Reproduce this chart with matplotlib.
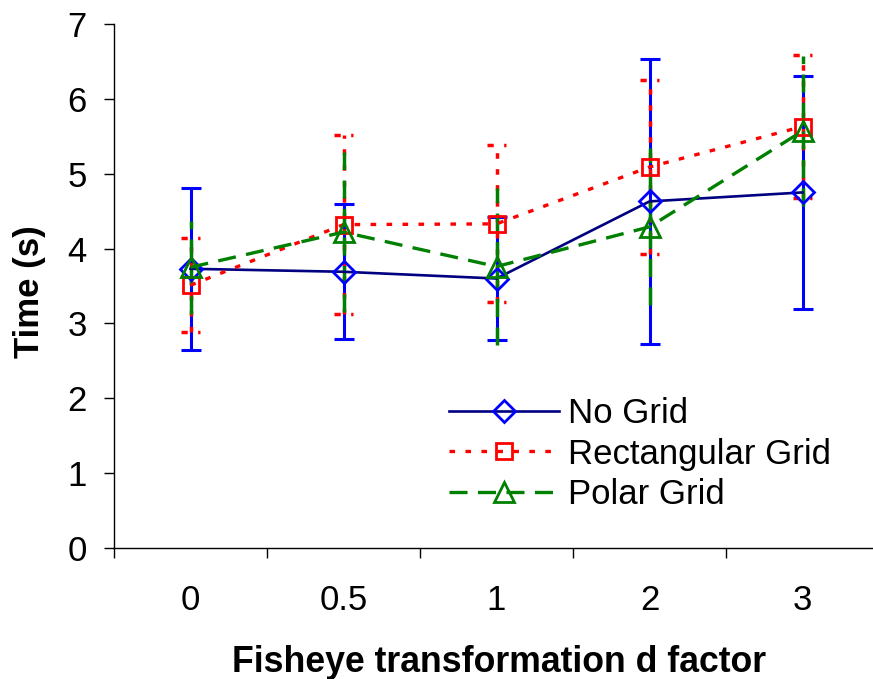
import matplotlib
matplotlib.use("Agg")
import matplotlib.pyplot as plt
import numpy as np

plt.rcParams['font.family'] = ['Liberation Sans', 'DejaVu Sans']
plt.rcParams['lines.scale_dashes'] = False

categories = ['0', '0.5', '1', '2', '3']
series_names = ['No Grid', 'Rectangular Grid', 'Polar Grid']
no_grid = [3.73, 3.69, 3.60, 4.63, 4.75]
no_grid_err = [1.085, 0.90, 0.82, 1.90, 1.56]
rect = [3.51, 4.32, 4.33, 5.09, 5.63]
rect_err = [0.63, 1.20, 1.05, 1.16, 0.96]
polar = [3.75, 4.22, 3.76, 4.29, 5.57]
polar_err = [0.62, 1.07, 1.05, 1.05, 1.00]
y_ticks = [0, 1, 2, 3, 4, 5, 6, 7]

W, H = 873, 679
fig = plt.figure(figsize=(W / 100, H / 100), dpi=100)
ax = fig.add_axes([114 / W, 1 - 548 / H, (879 - 114) / W, (548 - 24) / H])

x = np.arange(len(categories))
navy, blue, red, green = '#000080', '#0000FF', '#FF0000', '#008000'

# error bars
ax.errorbar(x, no_grid, yerr=no_grid_err, fmt='none', ecolor=blue,
            elinewidth=2.2, capsize=7.5, capthick=2.2, zorder=2)
ax.vlines(x, np.array(rect) - rect_err, np.array(rect) + rect_err,
          colors=red, linewidth=2.5, linestyles=(0, (4, 7.5)), zorder=3)
capw = 0.065
for lo_hi in (np.array(rect) - rect_err, np.array(rect) + rect_err):
    ax.hlines(lo_hi, x - capw, x + capw, colors=red, linewidth=2.5,
              linestyles=(0, (4.5, 7.5)), zorder=3)
ax.vlines(x, np.array(polar) - polar_err, np.array(polar) + polar_err,
          colors=green, linewidth=2.5, linestyles=(0, (13, 7.5)), zorder=4)

# lines
l1, = ax.plot(x, no_grid, color=navy, lw=1.9, marker='D', markersize=11,
              markeredgecolor=blue, markerfacecolor='none', markeredgewidth=2,
              zorder=5, label=series_names[0])
l2, = ax.plot(x, rect, color=red, lw=2.4, dashes=(4, 7.5), marker='s',
              markersize=12, markeredgecolor=red, markerfacecolor='none',
              markeredgewidth=2, zorder=5, label=series_names[1])
l3, = ax.plot(x, polar, color=green, lw=2.4, dashes=(13, 7.5), marker='^',
              markersize=14, markeredgecolor=green, markerfacecolor='none',
              markeredgewidth=2, zorder=5, label=series_names[2])

ax.set_xlim(-0.5, len(categories) - 0.5)
ax.set_ylim(0, 7)
ax.set_yticks(y_ticks)
ax.set_yticklabels([str(v) for v in y_ticks])

ax.set_xticks(np.arange(len(categories) + 1) - 0.5)
ax.set_xticklabels([])
ax.set_xticks(x, minor=True)
ax.set_xticklabels(categories, minor=True)

ax.tick_params(axis='y', which='major', direction='out', length=7.5, width=1,
               labelsize=25, pad=12)
ax.tick_params(axis='x', which='major', direction='out', length=7.5, width=1)
ax.tick_params(axis='x', which='minor', length=0, labelsize=25, pad=26)

for s in ['top', 'right']:
    ax.spines[s].set_visible(False)
for s in ['left', 'bottom']:
    ax.spines[s].set_linewidth(1.0)
    ax.spines[s].set_color('black')

ax.set_ylabel('Time (s)', fontsize=25, fontweight='bold')
ax.yaxis.set_label_coords(-(114 - 30) / (879 - 114), (548 - 292) / (548 - 24))
ax.yaxis.label.set_va('center')
ax.yaxis.label.set_ha('center')

ax.set_xlabel('Fisheye transformation d factor', fontsize=25.7, fontweight='bold')
ax.xaxis.set_label_coords((499 - 114) / (879 - 114), -(672 - 548) / (548 - 24))
ax.xaxis.label.set_va('baseline')

leg = ax.legend(handles=[l1, l2, l3], loc='upper left',
                bbox_to_anchor=(449 / W, 1 - 397 / H), bbox_transform=fig.transFigure,
                frameon=False, fontsize=25, borderpad=0, borderaxespad=0,
                handlelength=3.17, handletextpad=0.26, labelspacing=0.22)

fig.savefig('out.png', dpi=100)
